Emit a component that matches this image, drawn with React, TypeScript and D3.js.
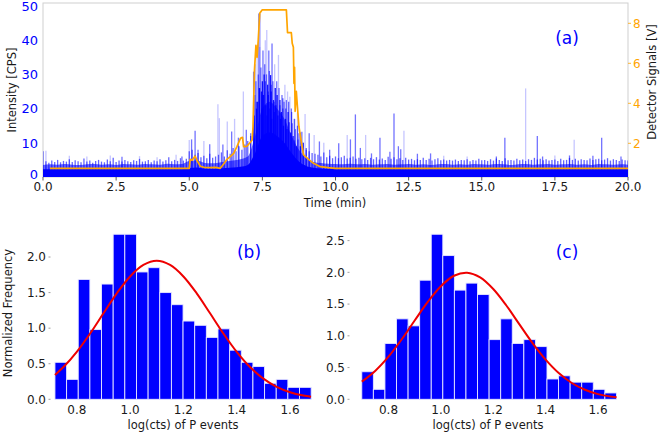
import React from "react";
import * as d3 from "d3";

const W = 661;
const H = 435;
const FONT = "DejaVu Sans, Liberation Sans, sans-serif";

// ---------- Panel (a) data ----------
const timeTicks = [0, 2.5, 5, 7.5, 10, 12.5, 15, 17.5, 20];
const intensityTicks = [0, 10, 20, 30, 40, 50];
const voltTicks = [2, 4, 6, 8];

// solid base of the intensity trace, sampled every 0.25 min
const coreStep = 0.25;
const coreLevel = [
  2.3, 2.3, 2.3, 2.3, 2.3, 2.3, 2.3, 2.3, 2.3, 2.3, 2.3, 2.3, 2.3, 2.3, 2.3, 2.3, 2.3, 2.3, 2.3, 2.3,
  2.6, 2.8, 2.5, 2.4, 2.5, 2.6, 2.8, 3.0, 3.5, 7.0, 12.0, 13.0, 12.0, 10.0, 7.0, 4.5, 3.2, 2.7, 2.5, 2.4,
  2.3, 2.3, 2.3, 2.3, 2.3, 2.3, 2.3, 2.3, 2.3, 2.3, 2.3, 2.3, 2.3, 2.3, 2.3, 2.3, 2.3, 2.3, 2.3, 2.3,
  2.3, 2.3, 2.3, 2.3, 2.3, 2.3, 2.3, 2.3, 2.3, 2.3, 2.3, 2.3, 2.3, 2.3, 2.3, 2.3, 2.3, 2.3, 2.3, 2.3, 2.3,
];
// dense noise haze, sampled every 0.25 min
const hazeLevel = [
  3.5, 3.7, 3.6, 3.8, 3.6, 3.5, 3.7, 3.8, 3.6, 3.7, 3.5, 3.8, 3.7, 3.6, 3.8, 3.7, 3.6, 3.9, 3.7, 3.8,
  4.7, 4.8, 4.2, 4.0, 4.2, 4.5, 4.8, 5.2, 6.0, 12, 20, 22, 20, 17, 12, 8, 5.5, 4.4, 4.1, 3.9,
  3.8, 3.7, 3.9, 3.7, 3.8, 3.6, 3.7, 3.8, 3.6, 3.7, 3.8, 3.6, 3.7, 3.5, 3.7, 3.8, 3.6, 3.7, 3.6, 3.8,
  3.7, 3.6, 3.8, 3.7, 3.5, 3.7, 3.8, 3.6, 3.7, 3.8, 3.6, 3.7, 3.8, 3.6, 3.7, 3.5, 3.8, 3.7, 3.6, 3.7, 3.6,
];
// noise spikes, sampled every 0.1 min
const fringeStep = 0.1;
const fringeLevel = [
  7.5, 4.6, 4.2, 4.8, 4.4, 5.0, 4.3, 4.7, 4.5, 5.2,
  4.4, 4.9, 4.6, 4.3, 5.4, 4.5, 4.8, 4.2, 4.7, 5.0,
  4.5, 4.3, 5.1, 4.6, 5.6, 4.4, 4.8, 4.5, 5.0, 4.6,
  4.4, 4.9, 4.7, 5.3, 4.5, 4.6, 5.0, 4.3, 4.8, 4.6,
  5.2, 4.5, 4.9, 5.8, 4.6, 5.0, 4.7, 5.5, 4.8, 5.3,
  7.5, 8.0, 6.5, 7.0, 5.8, 6.2, 5.5, 6.8, 5.6, 6.0,
  6.5, 7.2, 6.0, 7.8, 6.8, 8.5, 7.5, 9.0, 8.0, 9.5,
  10.5, 12, 16, 22, 26, 24, 28, 25, 27, 22,
  24, 21, 23, 20, 22, 19, 17, 15, 13, 10,
  8.5, 7.5, 7.0, 6.8, 6.5, 6.0, 7.2, 5.8, 6.2, 5.5,
  6.0, 5.5, 5.8, 6.2, 5.4, 5.6, 6.0, 5.3, 5.6, 5.2,
  5.5, 5.0, 5.6, 5.2, 5.8, 5.1, 5.4, 5.0, 5.9, 5.3,
  5.8, 5.2, 5.5, 5.0, 5.6, 5.1, 5.3, 4.9, 5.2, 5.0,
  5.6, 5.0, 5.3, 4.8, 5.2, 5.5, 4.9, 5.1, 4.8, 5.0,
  4.8, 5.1, 4.7, 5.0, 4.9, 5.2, 4.6, 5.0, 4.8, 5.3,
  4.9, 5.0, 4.7, 5.2, 4.8, 5.4, 5.0, 4.7, 5.5, 4.9,
  5.0, 4.8, 5.3, 4.9, 5.1, 4.7, 5.2, 5.0, 5.6, 5.1,
  5.3, 4.9, 5.2, 4.8, 5.0, 5.1, 4.7, 5.3, 4.9, 5.0,
  5.6, 5.0, 5.3, 4.8, 5.2, 5.0, 4.9, 5.4, 5.0, 5.2,
  5.3, 4.9, 5.1, 5.5, 4.8, 5.2, 5.0, 4.7, 5.1, 4.9,
  4.8,
];
// individual tall spikes (time in min, CPS, shade D=dark M=medium L=light)
const spikeTime = [
  0.1, 0.9, 1.5, 2.3, 2.7, 3.3, 3.9, 4.55, 4.75,
  5.0, 5.08, 5.2, 5.3, 5.5, 5.7, 5.98, 6.03, 6.15, 6.3, 6.45, 6.55, 6.68, 6.85, 6.95, 7.1,
  7.2, 7.26, 7.3, 7.38, 7.43, 7.47, 7.52, 7.56, 7.6, 7.65, 7.68, 7.72, 7.78, 7.83, 7.88, 7.94, 7.99,
  8.05, 8.1, 8.15, 8.2, 8.27, 8.32, 8.38, 8.44, 8.52, 8.6, 8.7, 8.75, 8.85, 8.96, 9.1, 9.27, 9.45, 9.6, 9.8,
  10.11, 10.4, 10.51, 10.68, 10.85, 11.03, 11.23, 11.52, 11.86, 12.0, 12.15, 12.23, 12.34, 12.8, 13.25,
  13.7, 14.5, 15.5, 15.79, 16.5, 16.9, 17.08, 17.5, 18.0, 18.16, 18.8, 19.1, 19.76,
  7.22, 7.24, 7.28, 7.32, 7.34, 7.36, 7.4, 7.41, 7.45, 7.49, 7.5, 7.54, 7.58, 7.62, 7.64, 7.66,
  7.7, 7.74, 7.76, 7.8, 7.82, 7.86, 7.9, 7.92, 7.96, 8.01, 8.03, 8.07, 8.12, 8.17, 8.22, 8.24,
  8.29, 8.34, 8.36, 8.41, 8.47, 8.49, 8.55, 8.58, 8.63, 8.66, 8.72, 8.8, 8.9, 9.0,
];
const spikeHeight = [
  7.7, 6.2, 6.0, 6.3, 5.9, 6.1, 5.8, 6.5, 6.0,
  10.8, 11.0, 13.5, 8.0, 10.5, 9.6, 21.3, 17.2, 9.5, 16.2, 13.3, 17.0, 11.5, 25.0, 13.8, 12.8,
  30.8, 33, 20, 47.8, 47.8, 25, 37, 30, 40, 43, 27, 37, 29.8, 39, 22.5, 26, 28,
  35.7, 22.5, 19, 20, 27, 22.5, 19, 23.5, 15.7, 10.7, 18.7, 12.8, 13.2, 18.4, 12.8, 12.3, 10.4, 10, 8,
  9.9, 12.3, 11, 18.3, 8.5, 12.3, 6.9, 11.5, 7.4, 18.6, 9.0, 8.1, 13.5, 6.8, 6.9,
  6.2, 6.0, 6.0, 11.5, 25.9, 12, 6, 6.3, 6.3, 10.9, 6.2, 11.5, 6,
  18, 24, 28, 35, 22, 30, 26, 38, 32, 20, 28, 24, 33, 21, 30, 18,
  24, 31, 20, 25, 17, 28, 19, 33, 21, 24, 18, 26, 17, 24, 15, 22,
  17, 14, 25, 16, 13, 20, 12, 17, 14, 9, 11, 9, 10, 8,
];
const spikeShade = [
  "L", "L", "L", "L", "M", "L", "L", "L", "M",
  "L", "M", "M", "M", "L", "M", "L", "L", "M", "L", "M", "L", "M", "L", "M", "M",
  "M", "L", "D", "M", "L", "D", "M", "D", "L", "L", "D", "M", "D", "M", "D", "D", "M",
  "L", "D", "D", "M", "L", "M", "D", "L", "M", "M", "L", "M", "M", "L", "M", "L", "M", "L", "M",
  "M", "L", "M", "M", "M", "L", "M", "M", "M", "M", "M", "M", "L", "M", "M",
  "L", "L", "M", "M", "L", "M", "M", "L", "M", "L", "M", "M", "M",
  "D", "M", "M", "L", "D", "M", "D", "L", "M", "D", "D", "D", "M", "D", "M", "D",
  "D", "M", "D", "D", "D", "M", "D", "L", "D", "M", "D", "M", "D", "M", "D", "M",
  "D", "D", "L", "D", "D", "M", "D", "L", "M", "D", "M", "D", "M", "M",
];
// detector signal (orange)
const detTime = [
  0.24, 5.0, 5.03, 5.1, 5.2, 5.28, 5.38, 5.5, 5.7, 5.9, 6.06, 6.17, 6.29, 6.4, 6.52, 6.63, 6.75, 6.82,
  6.86, 6.97, 7.06, 7.15, 7.18, 7.23, 7.28, 7.32, 7.36, 7.41, 7.49, 8.32, 8.36, 8.49, 8.52, 8.56, 8.58,
  8.6, 8.62, 8.66, 8.7, 8.75, 8.82, 8.91, 9.08, 9.25, 9.48, 9.75, 10.0, 20.0,
];
const detVolt = [
  0.75, 0.75, 1.2, 1.15, 1.36, 1.1, 0.85, 0.8, 0.78, 0.8, 0.75, 0.95, 1.2, 1.33, 1.5, 1.83, 2.25, 2.3,
  1.83, 1.85, 2.0, 2.17, 2.83, 5.67, 6.9, 6.3, 7.2, 8.5, 8.67, 8.67, 7.53, 7.53, 7.0, 6.8, 5.0,
  5.8, 3.6, 4.6, 3.8, 2.83, 2.17, 1.42, 1.2, 1.0, 0.83, 0.78, 0.75, 0.75,
];

// ---------- Panels (b), (c) data ----------
const histTicksX = [0.8, 1.0, 1.2, 1.4, 1.6];
const bTicksY = [0.0, 0.5, 1.0, 1.5, 2.0];
const cTicksY = [0.0, 0.5, 1.0, 1.5, 2.0, 2.5];

const bBinStart = 0.718;
const bBinWidth = 0.0437;
const bFreq = [
  0.52, 0.28, 1.685, 0.98, 1.62, 2.32, 2.32, 1.79, 1.85, 1.5, 1.33,
  1.1, 1.04, 0.87, 0.99, 0.69, 0.52, 0.46, 0.225, 0.28, 0.168, 0.168,
];
const bFitX = [0.718, 0.75, 0.8, 0.85, 0.9, 0.95, 1.0, 1.05, 1.1, 1.15, 1.2, 1.25, 1.3, 1.35, 1.4, 1.45, 1.5, 1.55, 1.6, 1.65, 1.679];
const bFitY = [0.343, 0.453, 0.667, 0.925, 1.209, 1.489, 1.727, 1.888, 1.946, 1.888, 1.727, 1.489, 1.209, 0.925, 0.667, 0.453, 0.29, 0.175, 0.1, 0.053, 0.036];

const cBinStart = 0.698;
const cBinWidth = 0.0442;
const cFreq = [
  0.434, 0.157, 0.88, 1.267, 1.157, 1.876, 2.6, 2.264, 1.72, 1.83, 1.65,
  0.94, 1.267, 0.88, 0.94, 0.83, 0.32, 0.37, 0.27, 0.27, 0.157, 0.1,
];
const cFitX = [0.698, 0.75, 0.8, 0.85, 0.9, 0.95, 1.0, 1.05, 1.1, 1.15, 1.2, 1.25, 1.3, 1.35, 1.4, 1.45, 1.5, 1.55, 1.6, 1.65, 1.671];
const cFitY = [0.278, 0.451, 0.672, 0.942, 1.241, 1.534, 1.782, 1.946, 1.995, 1.921, 1.738, 1.478, 1.18, 0.885, 0.624, 0.413, 0.257, 0.15, 0.082, 0.042, 0.032];

const BLUE = "#0000ff";
const ORANGE = "#ffa500";
const TXT = "#1a1a1a";

function TopPanel() {
  const x = d3.scaleLinear().domain([0, 20]).range([43, 628]);
  const y = d3.scaleLinear().domain([0, 50]).range([177, 6]);
  const v = d3.scaleLinear().domain([2, 8]).range([143.3, 23.3]);
  const y0 = y(0);

  const area = d3
    .area<number>()
    .x((_, i) => x(i * coreStep))
    .y0(y0)
    .y1((d) => y(d))
    .curve(d3.curveMonotoneX);
  const det = d3
    .line<number>()
    .x((_, i) => x(detTime[i]))
    .y((d) => v(d));

  const shadeOpacity: Record<string, number> = { D: 0.9, M: 0.55, L: 0.22 };

  return (
    <g>
      <defs>
        <clipPath id="clipA">
          <rect x={43} y={3} width={585} height={174} />
        </clipPath>
      </defs>
      <rect x={43} y={3} width={585} height={174} fill="white" stroke="#cfcfcf" strokeWidth={1} />
      <g clipPath="url(#clipA)">
        <path d={area(hazeLevel) ?? ""} fill={BLUE} opacity={0.6} />
        {fringeLevel.map((d, i) => (
          <line
            key={"f" + i}
            x1={x(i * fringeStep)}
            x2={x(i * fringeStep)}
            y1={y0}
            y2={y(d)}
            stroke={BLUE}
            strokeWidth={1.3}
            opacity={0.6}
          />
        ))}
        {spikeTime.map((t, i) => (
          <line
            key={"s" + i}
            x1={x(t)}
            x2={x(t)}
            y1={y0}
            y2={y(spikeHeight[i])}
            stroke={BLUE}
            strokeWidth={1.3}
            opacity={shadeOpacity[spikeShade[i]]}
          />
        ))}
        <path d={area(coreLevel) ?? ""} fill={BLUE} />
        <path d={det(detVolt) ?? ""} fill="none" stroke={ORANGE} strokeWidth={1.7} strokeLinejoin="round" />
      </g>
      {/* x axis */}
      {timeTicks.map((t) => (
        <g key={"xt" + t}>
          <line x1={x(t)} x2={x(t)} y1={177} y2={180.5} stroke="#333" strokeWidth={0.8} />
          <text x={x(t)} y={190.5} textAnchor="middle" fontSize={12} fill={TXT} fontFamily={FONT}>
            {t.toFixed(1)}
          </text>
        </g>
      ))}
      <text x={335} y={207} textAnchor="middle" fontSize={11.5} fill={TXT} fontFamily={FONT}>
        Time (min)
      </text>
      {/* left axis */}
      {intensityTicks.map((t) => (
        <text key={"yl" + t} x={38} y={y(t) + (t === 0 ? 2 : 4.8)} textAnchor="end" fontSize={13} fill={BLUE} fontFamily={FONT}>
          {t}
        </text>
      ))}
      <text
        transform={`translate(16,90) rotate(-90)`}
        textAnchor="middle"
        fontSize={11.5}
        fill={TXT}
        fontFamily={FONT}
      >
        Intensity [CPS]
      </text>
      {/* right axis */}
      {voltTicks.map((t) => (
        <g key={"yr" + t}>
          <line x1={628} x2={631} y1={v(t)} y2={v(t)} stroke={ORANGE} strokeWidth={0.8} />
          <text x={633} y={v(t) + 4.3} textAnchor="start" fontSize={12} fill={ORANGE} fontFamily={FONT}>
            {t}
          </text>
        </g>
      ))}
      <text
        transform={`translate(656,82) rotate(-90)`}
        textAnchor="middle"
        fontSize={11.5}
        fill={TXT}
        fontFamily={FONT}
      >
        Detector Signals [V]
      </text>
      <text x={567} y={44} textAnchor="middle" fontSize={17} fill={BLUE} fontFamily={FONT}>
        (a)
      </text>
    </g>
  );
}

type HistProps = {
  freq: number[];
  binStart: number;
  binWidth: number;
  fitX: number[];
  fitY: number[];
  ticksY: number[];
  xRange: [number, number];
  yTop: number;
  yLabelRight: number;
  label: string;
  labelX: number;
  xLabelX: number;
  showYLabel: boolean;
};

function HistPanel(p: HistProps) {
  const x = d3.scaleLinear().domain([0.8, 1.6]).range(p.xRange);
  const y = d3.scaleLinear().domain([0, p.yTop]).range([399.3, 226]);
  const fit = d3
    .line<number>()
    .x((_, i) => x(p.fitX[i]))
    .y((d) => y(d))
    .curve(d3.curveCatmullRom);
  return (
    <g>
      {p.freq.map((f, i) => {
        const x0 = x(p.binStart + i * p.binWidth);
        const x1 = x(p.binStart + (i + 1) * p.binWidth);
        return (
          <rect
            key={"b" + i}
            x={x0}
            y={y(f)}
            width={x1 - x0}
            height={y(0) - y(f)}
            fill={BLUE}
            stroke="#e6e6ff"
            strokeWidth={0.9}
          />
        );
      })}
      <path d={fit(p.fitY) ?? ""} fill="none" stroke="#ee0000" strokeWidth={2} />
      {p.ticksY.map((t) => (
        <g key={"ty" + t}>
          <line x1={p.yLabelRight + 2.5} x2={p.yLabelRight + 4.5} y1={y(t)} y2={y(t)} stroke="#888" strokeWidth={0.8} />
          <text x={p.yLabelRight} y={y(t) + 4.3} textAnchor="end" fontSize={12} fill={TXT} fontFamily={FONT}>
            {t.toFixed(1)}
          </text>
        </g>
      ))}
      {histTicksX.map((t) => (
        <text key={"tx" + t} x={x(t)} y={414} textAnchor="middle" fontSize={12} fill={TXT} fontFamily={FONT}>
          {t.toFixed(1)}
        </text>
      ))}
      <text x={p.xLabelX} y={429} textAnchor="middle" fontSize={11.5} fill={TXT} fontFamily={FONT}>
        log(cts) of P events
      </text>
      {p.showYLabel && (
        <text
          transform={`translate(12,313) rotate(-90)`}
          textAnchor="middle"
          fontSize={11.5}
          fill={TXT}
          fontFamily={FONT}
        >
          Normalized Frequency
        </text>
      )}
      <text x={p.labelX} y={258} textAnchor="middle" fontSize={17} fill={BLUE} fontFamily={FONT}>
        {p.label}
      </text>
    </g>
  );
}

export default function App() {
  return (
    <svg
      width={W}
      height={H}
      viewBox={`0 0 ${W} ${H}`}
      style={{ position: "absolute", left: 0, top: 0, background: "white" }}
    >
      <rect x={0} y={0} width={W} height={H} fill="white" />
      <TopPanel />
      <HistPanel
        freq={bFreq}
        binStart={bBinStart}
        binWidth={bBinWidth}
        fitX={bFitX}
        fitY={bFitY}
        ticksY={bTicksY}
        xRange={[76.8, 290]}
        yTop={2.436}
        yLabelRight={46}
        label="(b)"
        labelX={249}
        xLabelX={183}
        showYLabel={true}
      />
      <HistPanel
        freq={cFreq}
        binStart={cBinStart}
        binWidth={cBinWidth}
        fitX={cFitX}
        fitY={cFitY}
        ticksY={cTicksY}
        xRange={[388.5, 598]}
        yTop={2.73}
        yLabelRight={345}
        label="(c)"
        labelX={567}
        xLabelX={488}
        showYLabel={false}
      />
    </svg>
  );
}
